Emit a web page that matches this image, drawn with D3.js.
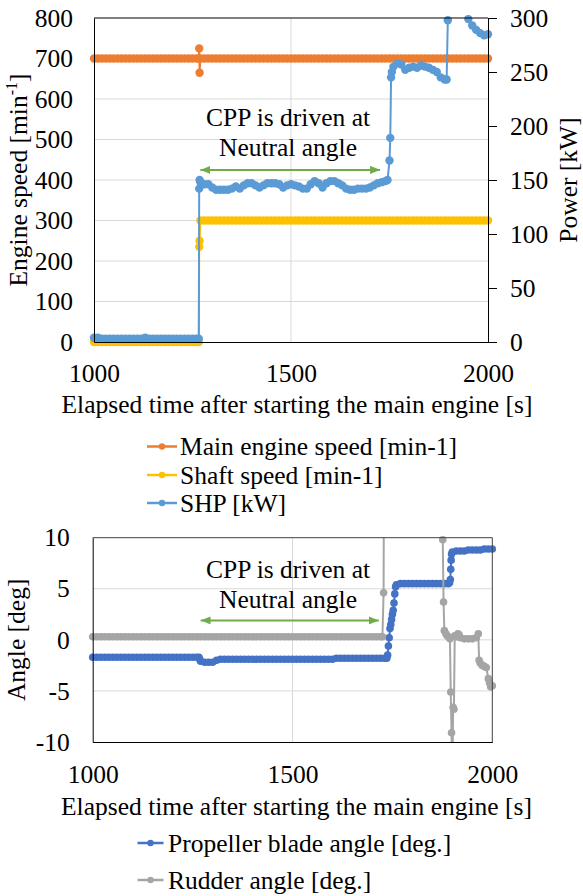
<!DOCTYPE html>
<html>
<head>
<meta charset="utf-8">
<script src="https://cdn.jsdelivr.net/npm/d3@7"></script>
<style>
  body { margin: 0; background: #fff; }
</style>
</head>
<body>
<div id="chart"></div>
<script>
// sample times of the logged data, every 10 s
const sampleTimes = d3.range(1000, 2001, 10);

const mainSpeed = [
  700, 700, 700, 700, 700, 700, 700, 700, 700, 700,
  700, 700, 700, 700, 700, 700, 700, 700, 700, 700,
  700, 700, 700, 700, 700, 700, 700, 700, 700, 700,
  700, 700, 700, 700, 700, 700, 700, 700, 700, 700,
  700, 700, 700, 700, 700, 700, 700, 700, 700, 700,
  700, 700, 700, 700, 700, 700, 700, 700, 700, 700,
  700, 700, 700, 700, 700, 700, 700, 700, 700, 700,
  700, 700, 700, 700, 700, 700, 700, 700, 700, 700,
  700, 700, 700, 700, 700, 700, 700, 700, 700, 700,
  700, 700, 700, 700, 700, 700, 700, 700, 700, 700,
  700
];
const mainSpeedExtra = [[1266, 700], [1267, 725], [1268, 665]];

const shaftSpeed = [
  0, 0, 0, 0, 0, 0, 0, 0, 0, 0,
  0, 0, 0, 0, 0, 0, 0, 0, 0, 0,
  0, 0, 0, 0, 0, 0, 0, 300, 300, 300,
  300, 300, 300, 300, 300, 300, 300, 300, 300, 300,
  300, 300, 300, 300, 300, 300, 300, 300, 300, 300,
  300, 300, 300, 300, 300, 300, 300, 300, 300, 300,
  300, 300, 300, 300, 300, 300, 300, 300, 300, 300,
  300, 300, 300, 300, 300, 300, 300, 300, 300, 300,
  300, 300, 300, 300, 300, 300, 300, 300, 300, 300,
  300, 300, 300, 300, 300, 300, 300, 300, 300, 300,
  300
];
const shaftSpeedExtra = [[1266, 0], [1267, 235], [1268, 250]];

// SHP [kW], right axis
const shp = [
  4, 4, 3, 3, 3, 3, 3, 3, 3, 3,
  3, 3, 3, 4, 3, 3, 3, 3, 3, 3,
  3, 3, 3, 3, 3, 3, 3, 148, 146, 146,
  143, 141, 141, 141, 141, 142, 144, 142, 145, 147,
  147, 145, 143, 145, 147, 147, 147, 146, 143, 145,
  146, 145, 144, 142, 142, 146, 149, 147, 143, 147,
  149, 149, 147, 145, 142, 141, 141, 142, 142, 142,
  143, 145, 147, 148, 149, 168, 255, 258, 257, 252,
  254, 255, 254, 256, 255, 254, 252, 250, 245, 243,
  330, 335, 330, 320, 310, 299, 293, 289, 286, 284,
  285
];
const shpExtra = [[1266, 3], [1267, 142], [1268, 150], [1745, 150], [1752, 189],
  [1754, 245], [1756, 250], [1895, 243], [1898, 298]];

const bladeAngle = [
  -1.7, -1.7, -1.7, -1.7, -1.7, -1.7, -1.7, -1.7, -1.7, -1.7,
  -1.7, -1.7, -1.7, -1.7, -1.7, -1.7, -1.7, -1.7, -1.7, -1.7,
  -1.7, -1.7, -1.7, -1.7, -1.7, -1.7, -1.7, -2.1, -2.2, -2.2,
  -2.2, -2.0, -1.9, -1.9, -1.9, -1.9, -1.9, -1.9, -1.9, -1.9,
  -1.9, -1.9, -1.9, -1.9, -1.9, -1.9, -1.9, -1.9, -1.9, -1.9,
  -1.9, -1.9, -1.9, -1.9, -1.9, -1.9, -1.9, -1.9, -1.9, -1.9,
  -1.9, -1.8, -1.8, -1.8, -1.8, -1.8, -1.8, -1.8, -1.8, -1.8,
  -1.8, -1.8, -1.8, -1.8, -0.6, 2.5, 5.4, 5.5, 5.5, 5.5,
  5.5, 5.5, 5.5, 5.5, 5.5, 5.5, 5.5, 5.5, 5.5, 5.5,
  8.6, 8.7, 8.7, 8.7, 8.8, 8.8, 8.8, 8.8, 8.9, 8.9,
  8.9
];
const bladeAngleExtra = [[1266, -1.7], [1268, -1.9], [1736, -1.8], [1738, -1.5], [1742, 0.2],
  [1744, 1.1], [1746, 1.5], [1748, 2.0], [1752, 2.9], [1754, 3.6], [1756, 4.5], [1758, 5.2],
  [1893, 5.6], [1895, 5.9], [1896, 6.9], [1897, 7.8], [1898, 8.4]];

const rudderAngle = [
  0.3, 0.3, 0.3, 0.3, 0.3, 0.3, 0.3, 0.3, 0.3, 0.3,
  0.3, 0.3, 0.3, 0.3, 0.3, 0.3, 0.3, 0.3, 0.3, 0.3,
  0.3, 0.3, 0.3, 0.3, 0.3, 0.3, 0.3, 0.3, 0.3, 0.3,
  0.3, 0.3, 0.3, 0.3, 0.3, 0.3, 0.3, 0.3, 0.3, 0.3,
  0.3, 0.3, 0.3, 0.3, 0.3, 0.3, 0.3, 0.3, 0.3, 0.3,
  0.3, 0.3, 0.3, 0.3, 0.3, 0.3, 0.3, 0.3, 0.3, 0.3,
  0.3, 0.3, 0.3, 0.3, 0.3, 0.3, 0.3, 0.3, 0.3, 0.3,
  0.3, 0.3, 0.3, 35, 35, 35, 35, 35, 35, 35,
  35, 35, 35, 35, 35, 35, 35, 35, 0.9, 0.3,
  -14, 0.3, 0.2, 0.1, 0.1, 0.1, 0.2, -2.3, -2.6, -3.8,
  -4.5
];
const rudderAngleExtra = [[1725, 0.3], [1728, 4.6], [1876, 9.8], [1878, 3.7], [1884, 0.6],
  [1887, 0.4], [1894, 0.1], [1896, -5.1], [1898, -9.1], [1902, -6.6], [1904, -6.8],
  [1906, 0.4], [1914, 0.6], [1917, 0.5], [1965, 0.6], [1967, -2.0], [1975, -2.5],
  [1985, -2.7], [1993, -4.2], [1996, -4.6]];

const timeTicks = [1000, 1500, 2000];
const speedTicks = [0, 100, 200, 300, 400, 500, 600, 700, 800];
const powerTicks = [0, 50, 100, 150, 200, 250, 300];
const angleTicks = [-10, -5, 0, 5, 10];

const topLegend = ["Main engine speed [min-1]", "Shaft speed [min-1]", "SHP [kW]"];
const bottomLegend = ["Propeller blade angle [deg.]", "Rudder angle [deg.]"];
const noteLines = ["CPP is driven at", "Neutral angle"];
const topArrow = { from: 1270, to: 1726, level: 425 };
const bottomArrow = { from: 1270, to: 1716, level: 1.9 };

const FONT = 25.5;
const SERIF = "'Liberation Serif', 'Times New Roman', 'DejaVu Serif', serif";
const GRID = "#d9d9d9";
const GREEN = "#70ad47";

function series(values, extra) {
  const pts = sampleTimes.map((t, i) => ({ t, v: values[i] }));
  extra.forEach(([t, v]) => pts.push({ t, v }));
  return pts.sort((a, b) => a.t - b.t);
}

const svg = d3.select("#chart").append("svg")
  .attr("width", 583)
  .attr("height", 896)
  .attr("font-family", SERIF)
  .style("background", "#fff");

function label(sel) {
  return sel.style("font-family", SERIF).style("font-size", FONT + "px").attr("fill", "#000");
}

const defs = svg.append("defs");
defs.append("marker")
  .attr("id", "arrowHead")
  .attr("viewBox", "0 0 10 8")
  .attr("refX", 10).attr("refY", 4)
  .attr("markerUnits", "userSpaceOnUse")
  .attr("markerWidth", 10).attr("markerHeight", 8)
  .attr("orient", "auto-start-reverse")
  .append("path").attr("d", "M0,0L10,4L0,8Z").attr("fill", GREEN);

function clip(id, x0, y0, x1, y1) {
  defs.append("clipPath").attr("id", id)
    .append("rect").attr("x", x0).attr("y", y0).attr("width", x1 - x0).attr("height", y1 - y0);
  return `url(#${id})`;
}

function styleAxis(g) {
  g.attr("font-family", SERIF).attr("font-size", FONT);
  label(g.selectAll("text"));
  g.selectAll("path.domain, line").attr("stroke", "#000").attr("stroke-width", 1);
}

function drawSeries(g, data, x, y, color, r, lineClip, dotClip) {
  const line = d3.line().x(d => x(d.t)).y(d => y(d.v));
  g.append("path")
    .datum(data)
    .attr("clip-path", lineClip)
    .attr("fill", "none")
    .attr("stroke", color)
    .attr("stroke-width", 2)
    .attr("d", line);
  g.append("g")
    .attr("clip-path", dotClip)
    .selectAll("circle")
    .data(data)
    .join("circle")
    .attr("cx", d => x(d.t))
    .attr("cy", d => y(d.v))
    .attr("r", r)
    .attr("fill", color);
}

function drawNote(cx, baselines, arrow, x, y) {
  noteLines.forEach((s, i) => {
    svg.append("text")
      .attr("x", cx).attr("y", baselines[i])
      .attr("text-anchor", "middle")
      .call(label)
      .text(s);
  });
  svg.append("line")
    .attr("x1", x(arrow.from)).attr("x2", x(arrow.to))
    .attr("y1", y(arrow.level)).attr("y2", y(arrow.level))
    .attr("stroke", GREEN).attr("stroke-width", 2)
    .attr("marker-start", "url(#arrowHead)")
    .attr("marker-end", "url(#arrowHead)");
}

function drawLegend(names, colors, x0, x1, tx, rows) {
  names.forEach((name, i) => {
    const yy = rows[i];
    svg.append("line")
      .attr("x1", x0).attr("x2", x1).attr("y1", yy).attr("y2", yy)
      .attr("stroke", colors[i]).attr("stroke-width", 2.5);
    svg.append("circle")
      .attr("cx", (x0 + x1) / 2).attr("cy", yy).attr("r", 3.2)
      .attr("fill", colors[i]);
    svg.append("text")
      .attr("x", tx).attr("y", yy + 8.5)
      .call(label)
      .text(name);
  });
}

// ---------- top panel: speeds and power ----------
const P1 = { left: 94, right: 488, top: 18, bottom: 342 };
const x1 = d3.scaleLinear().domain([1000, 2000]).range([P1.left, P1.right]);
const ySpeed = d3.scaleLinear().domain([0, 800]).range([P1.bottom, P1.top]);
const yPower = d3.scaleLinear().domain([0, 300]).range([P1.bottom, P1.top]);
const topColors = ["#ed7d31", "#ffc000", "#5b9bd5"];

const g1 = svg.append("g");
g1.selectAll(".hgrid").data(speedTicks.slice(1, -1)).join("line")
  .attr("x1", P1.left).attr("x2", P1.right)
  .attr("y1", d => ySpeed(d)).attr("y2", d => ySpeed(d))
  .attr("stroke", GRID).attr("stroke-width", 1);
g1.append("line")
  .attr("x1", x1(1500)).attr("x2", x1(1500)).attr("y1", P1.top).attr("y2", P1.bottom)
  .attr("stroke", GRID).attr("stroke-width", 1);

const lineClip1 = clip("lineClip1", P1.left, P1.top, P1.right, P1.bottom);
const dotClip1 = clip("dotClip1", P1.left - 6, P1.top - 5, P1.right + 6, P1.bottom + 5);

drawSeries(g1, series(mainSpeed, mainSpeedExtra), x1, ySpeed, topColors[0], 4.2, lineClip1, dotClip1);
drawSeries(g1, series(shaftSpeed, shaftSpeedExtra), x1, ySpeed, topColors[1], 4.2, lineClip1, dotClip1);
drawSeries(g1, series(shp, shpExtra), x1, yPower, topColors[2], 4.2, lineClip1, dotClip1);

svg.append("g")
  .attr("transform", `translate(${P1.left},0)`)
  .call(d3.axisLeft(ySpeed).tickValues(speedTicks).tickSize(0).tickPadding(21))
  .call(styleAxis);
svg.append("g")
  .attr("transform", `translate(${P1.right},0)`)
  .call(d3.axisRight(yPower).tickValues(powerTicks).tickSize(9).tickSizeOuter(0).tickPadding(13))
  .call(styleAxis);
svg.append("g")
  .attr("transform", `translate(0,${P1.bottom})`)
  .call(d3.axisBottom(x1).tickValues(timeTicks).tickSize(0).tickPadding(22).tickFormat(d3.format("d")))
  .call(styleAxis);
svg.append("line")
  .attr("x1", P1.left).attr("x2", P1.right).attr("y1", P1.top).attr("y2", P1.top)
  .attr("stroke", "#000").attr("stroke-width", 1);

const leftTitle = svg.append("text")
  .attr("transform", `translate(27,${(P1.top + P1.bottom) / 2}) rotate(-90)`)
  .attr("text-anchor", "middle")
  .call(label);
leftTitle.append("tspan").text("Engine speed [min");
leftTitle.append("tspan").attr("dy", -10).style("font-size", "16px").text("-1");
leftTitle.append("tspan").attr("dy", 10).text("]");

svg.append("text")
  .attr("transform", `translate(577,${(P1.top + P1.bottom) / 2}) rotate(-90)`)
  .attr("text-anchor", "middle")
  .call(label)
  .text("Power [kW]");

svg.append("text")
  .attr("x", 297).attr("y", 413)
  .attr("text-anchor", "middle")
  .call(label)
  .text("Elapsed time after starting the main engine [s]");

drawNote(288, [126, 156], topArrow, x1, ySpeed);
drawLegend(topLegend, topColors, 147, 177, 180, [446.5, 475, 503]);

// ---------- bottom panel: angles ----------
const P2 = { left: 92.7, right: 492.3, top: 537.7, bottom: 742 };
const x2 = d3.scaleLinear().domain([1000, 2000]).range([P2.left, P2.right]);
const yAngle = d3.scaleLinear().domain([-10, 10]).range([P2.bottom, P2.top]);
const bottomColors = ["#4472c4", "#a5a5a5"];

const g2 = svg.append("g");
g2.selectAll(".hgrid").data(angleTicks.slice(1, -1)).join("line")
  .attr("x1", P2.left).attr("x2", P2.right)
  .attr("y1", d => yAngle(d)).attr("y2", d => yAngle(d))
  .attr("stroke", GRID).attr("stroke-width", 1);
g2.append("line")
  .attr("x1", x2(1500)).attr("x2", x2(1500)).attr("y1", P2.top).attr("y2", P2.bottom)
  .attr("stroke", GRID).attr("stroke-width", 1);

const lineClip2 = clip("lineClip2", P2.left, P2.top, P2.right, P2.bottom);
const dotClip2 = clip("dotClip2", P2.left - 6, P2.top - 5, P2.right + 6, P2.bottom + 5);

drawSeries(g2, series(bladeAngle, bladeAngleExtra), x2, yAngle, bottomColors[0], 3.8, lineClip2, dotClip2);
drawSeries(g2, series(rudderAngle, rudderAngleExtra), x2, yAngle, bottomColors[1], 3.8, lineClip2, dotClip2);

svg.append("path")
  .attr("d", `M${P2.left},${P2.top}H${P2.right}V${P2.bottom}`)
  .attr("fill", "none").attr("stroke", "#404040").attr("stroke-width", 1);
svg.append("g")
  .attr("transform", `translate(${P2.left},0)`)
  .call(d3.axisLeft(yAngle).tickValues(angleTicks).tickSize(0).tickPadding(23).tickFormat(d => String(d)))
  .call(styleAxis);
svg.append("g")
  .attr("transform", `translate(0,${P2.bottom})`)
  .call(d3.axisBottom(x2).tickValues(timeTicks).tickSize(0).tickPadding(22.6).tickFormat(d3.format("d")))
  .call(styleAxis);

svg.append("text")
  .attr("transform", `translate(25,${(P2.top + P2.bottom) / 2}) rotate(-90)`)
  .attr("text-anchor", "middle")
  .call(label)
  .text("Angle [deg]");

svg.append("text")
  .attr("x", 296.5).attr("y", 815)
  .attr("text-anchor", "middle")
  .call(label)
  .text("Elapsed time after starting the main engine [s]");

drawNote(288, [578, 608], bottomArrow, x2, yAngle);
drawLegend(bottomLegend, bottomColors, 137.5, 163.5, 168, [843, 880]);
</script>
</body>
</html>
